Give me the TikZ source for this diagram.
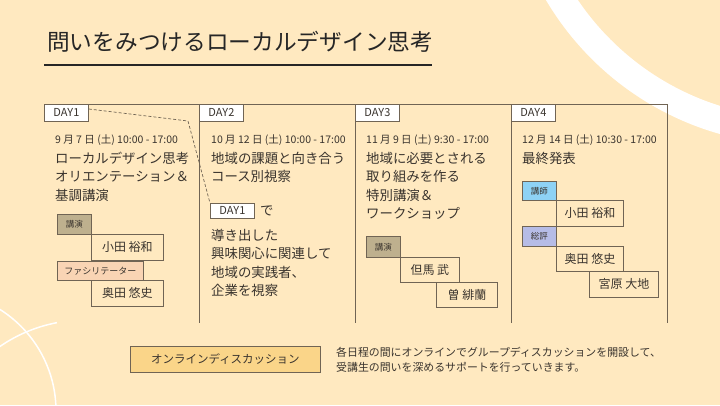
\documentclass[tikz,border=0pt]{standalone}
\usepackage{fontspec}
\setmainfont{Noto Sans CJK JP}
\definecolor{bg}{RGB}{255,233,192}
\definecolor{framec}{RGB}{112,100,84}
\definecolor{ink}{RGB}{58,52,46}
\definecolor{tagA}{RGB}{190,176,142}
\definecolor{tagB}{RGB}{249,212,180}
\definecolor{tagC}{RGB}{142,210,245}
\definecolor{tagD}{RGB}{182,188,230}
\definecolor{gold}{RGB}{250,213,137}
\tikzset{
  daybox/.style={draw=framec, fill=white, line width=0.8pt, anchor=north west, minimum width=44pt, minimum height=17pt, inner sep=0pt, font=\fontsize{11}{11}\selectfont, text=ink},
  datetxt/.style={anchor=base west, inner sep=0pt, font=\fontsize{10.5}{12}\selectfont, text=ink},
  bodytxt/.style={anchor=base west, inner sep=0pt, font=\fontsize{13.4}{16}\selectfont, text=ink},
  smalltxt/.style={anchor=base west, inner sep=0pt, font=\fontsize{10.9}{13}\selectfont, text=ink},
  namebox/.style={draw=framec, line width=0.8pt, anchor=north west, inner sep=0pt, font=\fontsize{12}{12}\selectfont, text=ink},
  tagbox/.style={draw=framec, line width=0.8pt, anchor=north west, inner sep=0pt, font=\fontsize{8.5}{9}\selectfont, text=ink},
  frameline/.style={draw=framec, line width=0.8pt}
}
\begin{document}
\begin{tikzpicture}[x=1pt,y=-1pt]
\useasboundingbox (0,0) rectangle (720,405);
\fill[bg] (0,0) rectangle (720,405);
\begin{scope}
  \clip (0,0) rectangle (720,405);
  \draw[white, line width=27pt] (800,-150) circle[radius=281.5];
  \draw[white, line width=1.5pt] (-64,411) circle[radius=120];
  \draw[white, line width=1.5pt] plot[domain=-126:-100.8, samples=30] ({85+150*cos(\x)},{470+150*sin(\x)});
\end{scope}

% title
\node[anchor=base west, inner sep=0pt, font=\fontsize{22.7}{23}\selectfont, text=black!85] (title) at (47,50.5) {問いをみつけるローカルデザイン思考};
\draw[line width=1.3pt, black!85] (44,65) -- (432,65);

% frame
\draw[frameline] (44,104) -- (667,104);
\foreach \xx in {199,355,511,667} { \draw[frameline] (\xx,104) -- (\xx,323); }

% day boxes
\node[daybox] (d1) at (44,104) {DAY1};
\node[daybox] (d2) at (199,104) {DAY2};
\node[daybox] (d3) at (355,104) {DAY3};
\node[daybox] (d4) at (511,104) {DAY4};

% dates
\node[datetxt] (t1) at (55,143) {9 月 7 日 (土) 10:00 - 17:00};
\node[datetxt] (t2) at (211,143) {10 月 12 日 (土) 10:00 - 17:00};
\node[datetxt] (t3) at (366,143) {11 月 9 日 (土) 9:30 - 17:00};
\node[datetxt] (t4) at (522,143) {12 月 14 日 (土) 10:30 - 17:00};

% column 1
\node[bodytxt] (a1) at (55,163) {ローカルデザイン思考};
\node[bodytxt] (a2) at (55,181.5) {オリエンテーション＆};
\node[bodytxt] (a3) at (55,200) {基調講演};
\node[tagbox, fill=tagA, minimum width=34pt, minimum height=20pt] (a4) at (57,214) {講演};
\node[namebox, minimum width=72pt, minimum height=26pt] (a5) at (91,234) {小田 裕和};
\node[tagbox, fill=tagB, minimum width=86pt, minimum height=19pt, font=\fontsize{9}{9}\selectfont] (a6) at (57,261) {ファシリテーター};
\node[namebox, minimum width=72pt, minimum height=26pt] (a7) at (91,280) {奥田 悠史};

% column 2
\node[bodytxt] (b1) at (211,163) {地域の課題と向き合う};
\node[bodytxt] (b2) at (211,181.5) {コース別視察};
\node[daybox, minimum height=15pt] (inl) at (210,203) {DAY1};
\node[bodytxt] (b3) at (260,215) {で};
\node[bodytxt] (b4) at (211,240) {導き出した};
\node[bodytxt] (b5) at (211,258.5) {興味関心に関連して};
\node[bodytxt] (b6) at (211,277) {地域の実践者、};
\node[bodytxt] (b7) at (211,295.5) {企業を視察};

% dashed connector
\coordinate (bend) at (188,121);
\draw[framec, line width=0.7pt, dash pattern=on 3pt off 2pt] ([yshift=-5pt]d1.north east) -- (bend) -- (inl.north west);

% column 3
\node[bodytxt] (c1) at (366,163) {地域に必要とされる};
\node[bodytxt] (c2) at (366,181.5) {取り組みを作る};
\node[bodytxt] (c3) at (366,200) {特別講演＆};
\node[bodytxt] (c4) at (366,218.5) {ワークショップ};
\node[tagbox, fill=tagA, minimum width=34pt, minimum height=21pt] (c5) at (366,236) {講演};
\node[namebox, minimum width=59pt, minimum height=25pt] (c6) at (400,257) {但馬 武};
\node[namebox, minimum width=61pt, minimum height=25pt] (c7) at (436,282) {曽 緋蘭};

% column 4
\node[bodytxt] (e1) at (522,163) {最終発表};
\node[tagbox, fill=tagC, minimum width=34pt, minimum height=19pt] (e2) at (522,181) {講師};
\node[namebox, minimum width=67pt, minimum height=26pt] (e3) at (556,200) {小田 裕和};
\node[tagbox, fill=tagD, minimum width=34pt, minimum height=20pt] (e4) at (522,226) {総評};
\node[namebox, minimum width=67pt, minimum height=25pt] (e5) at (556,246) {奥田 悠史};
\node[namebox, minimum width=69pt, minimum height=26pt] (e6) at (589,271) {宮原 大地};

% bottom
\node[draw=framec, line width=0.8pt, fill=gold, anchor=north west, minimum width=190pt, minimum height=26pt, inner sep=0pt, font=\fontsize{11.5}{12}\selectfont, text=ink] (ol) at (130,346) {オンラインディスカッション};
\node[smalltxt] (s1) at (336,356) {各日程の間にオンラインでグループディスカッションを開設して、};
\node[smalltxt] (s2) at (336,371) {受講生の問いを深めるサポートを行っていきます。};
\end{tikzpicture}
\end{document}
